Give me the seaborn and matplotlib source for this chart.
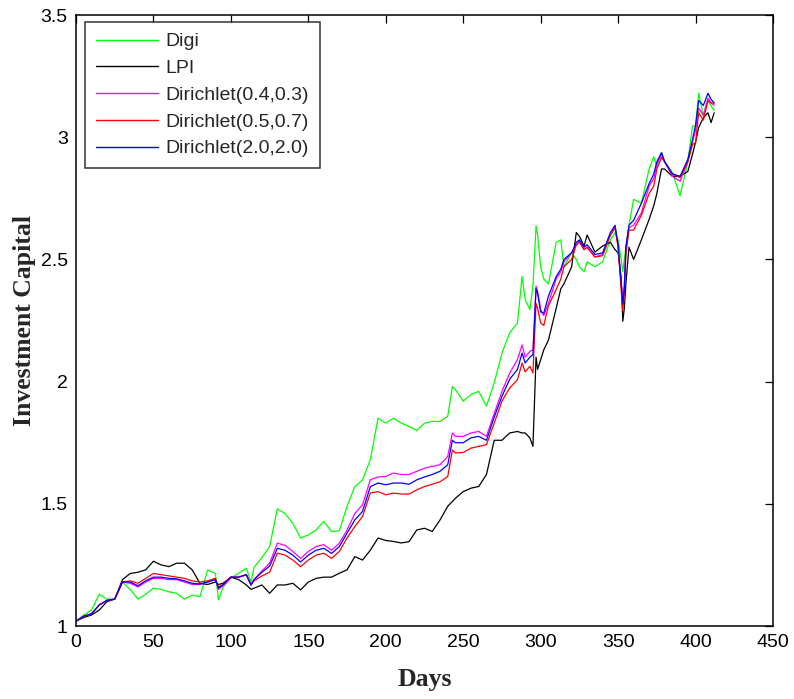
import numpy as np
import pandas as pd
import matplotlib
matplotlib.use("Agg")
import matplotlib.pyplot as plt
import seaborn as sns

# Trading days at which the portfolio value is sampled
days = [
    0, 5, 10, 15, 20, 25, 30, 35, 40, 45,
    50, 55, 60, 65, 70, 75, 80, 85, 90, 92,
    95, 100, 105, 110, 113, 115, 120, 125, 130, 135,
    140, 145, 150, 155, 160, 165, 170, 175, 180, 185,
    190, 195, 200, 205, 210, 215, 220, 225, 230, 235,
    240, 243, 245, 250, 255, 260, 265, 270, 275, 280,
    285, 288, 290, 293, 295, 297, 298, 300, 302, 305,
    310, 313, 315, 320, 323, 325, 328, 330, 335, 340,
    345, 348, 350, 352, 353, 354, 355, 357, 360, 365,
    370, 373, 375, 378, 380, 385, 390, 395, 398, 400,
    402, 405, 408, 410, 412,
]

digi = [
    1.02, 1.045, 1.065, 1.13, 1.11, 1.11, 1.18, 1.15, 1.11, 1.13,
    1.155, 1.15, 1.14, 1.134, 1.11, 1.127, 1.12, 1.23, 1.215, 1.107,
    1.16, 1.195, 1.216, 1.236, 1.18, 1.24, 1.28, 1.325, 1.48, 1.46,
    1.42, 1.36, 1.373, 1.393, 1.428, 1.387, 1.39, 1.49, 1.57, 1.598,
    1.68, 1.85, 1.83, 1.85, 1.83, 1.817, 1.80, 1.83, 1.837, 1.837,
    1.858, 1.98, 1.967, 1.92, 1.947, 1.96, 1.90, 1.995, 2.117, 2.20,
    2.24, 2.43, 2.336, 2.295, 2.39, 2.637, 2.60, 2.47, 2.42, 2.40,
    2.57, 2.58, 2.47, 2.527, 2.50, 2.47, 2.45, 2.49, 2.47, 2.49,
    2.58, 2.61, 2.58, 2.50, 2.45, 2.50, 2.55, 2.64, 2.746, 2.73,
    2.87, 2.92, 2.88, 2.937, 2.90, 2.855, 2.76, 2.90, 3.046, 3.046,
    3.18, 3.087, 3.15, 3.128, 3.11,
]

lpi = [
    1.02, 1.035, 1.045, 1.065, 1.10, 1.11, 1.19, 1.215, 1.22, 1.23,
    1.265, 1.25, 1.243, 1.257, 1.257, 1.23, 1.175, 1.17, 1.18, 1.17,
    1.175, 1.20, 1.19, 1.168, 1.15, 1.155, 1.168, 1.134, 1.168, 1.168,
    1.175, 1.148, 1.18, 1.195, 1.20, 1.20, 1.216, 1.23, 1.284, 1.27,
    1.31, 1.36, 1.35, 1.346, 1.34, 1.345, 1.393, 1.40, 1.387, 1.434,
    1.49, 1.51, 1.523, 1.55, 1.564, 1.571, 1.62, 1.76, 1.76, 1.79,
    1.796, 1.79, 1.79, 1.77, 1.735, 2.10, 2.05, 2.09, 2.13, 2.17,
    2.30, 2.38, 2.40, 2.47, 2.61, 2.595, 2.555, 2.60, 2.53, 2.555,
    2.57, 2.54, 2.527, 2.42, 2.247, 2.30, 2.40, 2.55, 2.50, 2.58,
    2.664, 2.72, 2.77, 2.87, 2.87, 2.84, 2.84, 2.86, 2.93, 2.98,
    3.04, 3.08, 3.10, 3.06, 3.10,
]

dir_04_03 = [
    1.02, 1.04, 1.05, 1.086, 1.105, 1.11, 1.18, 1.175, 1.16, 1.18,
    1.195, 1.195, 1.19, 1.19, 1.18, 1.17, 1.17, 1.18, 1.19, 1.15,
    1.165, 1.20, 1.20, 1.21, 1.168, 1.19, 1.225, 1.257, 1.339, 1.33,
    1.305, 1.277, 1.305, 1.325, 1.333, 1.31, 1.339, 1.393, 1.46, 1.496,
    1.598, 1.61, 1.612, 1.626, 1.62, 1.62, 1.633, 1.646, 1.653, 1.66,
    1.694, 1.79, 1.776, 1.776, 1.79, 1.796, 1.776, 1.87, 1.96, 2.035,
    2.09, 2.15, 2.10, 2.124, 2.13, 2.39, 2.37, 2.295, 2.27, 2.32,
    2.42, 2.45, 2.49, 2.527, 2.56, 2.57, 2.54, 2.55, 2.51, 2.52,
    2.60, 2.63, 2.55, 2.40, 2.33, 2.40, 2.55, 2.63, 2.64, 2.69,
    2.80, 2.83, 2.89, 2.93, 2.90, 2.84, 2.82, 2.90, 2.98, 3.03,
    3.12, 3.09, 3.16, 3.14, 3.13,
]

dir_05_07 = [
    1.02, 1.04, 1.05, 1.086, 1.105, 1.11, 1.18, 1.185, 1.175, 1.195,
    1.215, 1.21, 1.205, 1.20, 1.195, 1.185, 1.18, 1.185, 1.195, 1.16,
    1.17, 1.20, 1.20, 1.21, 1.168, 1.185, 1.205, 1.22, 1.298, 1.29,
    1.27, 1.243, 1.27, 1.29, 1.298, 1.277, 1.305, 1.36, 1.407, 1.448,
    1.544, 1.55, 1.537, 1.544, 1.54, 1.54, 1.557, 1.571, 1.58, 1.59,
    1.612, 1.72, 1.708, 1.71, 1.728, 1.735, 1.742, 1.83, 1.92, 1.974,
    2.008, 2.076, 2.04, 2.063, 2.036, 2.32, 2.30, 2.24, 2.23, 2.31,
    2.377, 2.42, 2.47, 2.50, 2.56, 2.575, 2.54, 2.55, 2.51, 2.515,
    2.60, 2.63, 2.55, 2.37, 2.29, 2.36, 2.52, 2.62, 2.62, 2.68,
    2.77, 2.80, 2.87, 2.917, 2.90, 2.85, 2.835, 2.90, 2.97, 2.978,
    3.10, 3.07, 3.15, 3.14, 3.14,
]

dir_20_20 = [
    1.02, 1.04, 1.05, 1.086, 1.105, 1.11, 1.18, 1.18, 1.165, 1.185,
    1.20, 1.20, 1.195, 1.193, 1.185, 1.175, 1.172, 1.18, 1.19, 1.155,
    1.17, 1.20, 1.20, 1.21, 1.168, 1.19, 1.22, 1.245, 1.318, 1.31,
    1.29, 1.262, 1.29, 1.31, 1.318, 1.297, 1.325, 1.38, 1.434, 1.469,
    1.57, 1.585, 1.578, 1.585, 1.585, 1.58, 1.598, 1.61, 1.62, 1.633,
    1.66, 1.76, 1.75, 1.75, 1.77, 1.776, 1.76, 1.855, 1.94, 2.01,
    2.05, 2.117, 2.076, 2.10, 2.11, 2.38, 2.36, 2.285, 2.28, 2.35,
    2.43, 2.46, 2.50, 2.527, 2.57, 2.58, 2.55, 2.56, 2.52, 2.527,
    2.61, 2.64, 2.56, 2.40, 2.32, 2.38, 2.55, 2.64, 2.66, 2.73,
    2.81, 2.85, 2.90, 2.937, 2.90, 2.85, 2.84, 2.91, 2.99, 3.05,
    3.15, 3.13, 3.18, 3.155, 3.14,
]

series_names = ["Digi", "LPI", "Dirichlet(0.4,0.3)", "Dirichlet(0.5,0.7)", "Dirichlet(2.0,2.0)"]
series_values = [digi, lpi, dir_04_03, dir_05_07, dir_20_20]
series_colors = ["#00ff00", "#000000", "#ff00ff", "#ff0000", "#0000ff"]

x_ticks = [0, 50, 100, 150, 200, 250, 300, 350, 400, 450]
y_ticks = [1, 1.5, 2, 2.5, 3, 3.5]
y_tick_labels = ["1", "1.5", "2", "2.5", "3", "3.5"]

frames = [pd.DataFrame({"Days": days, "Capital": vals, "Method": name})
          for name, vals in zip(series_names, series_values)]
data = pd.concat(frames, ignore_index=True)

sns.set_style("white")
plt.rcParams["font.family"] = ["Liberation Sans", "DejaVu Sans"]

fig = plt.figure(figsize=(7.94, 6.99), dpi=100)
ax = fig.add_axes([0.0957, 0.1044, 0.8779, 0.8741])

sns.lineplot(data=data, x="Days", y="Capital", hue="Method",
             hue_order=series_names, palette=dict(zip(series_names, series_colors)),
             linewidth=0.9, ax=ax, legend=True, estimator=None, sort=False)

ax.set_xlim(0, 450)
ax.set_ylim(1, 3.5)
ax.set_xticks(x_ticks)
ax.set_yticks(y_ticks)
ax.set_yticklabels(y_tick_labels)
ax.tick_params(direction="in", length=6, width=0.9, top=True, right=True,
               labelsize=14, colors="black", pad=6)
for side in ["left", "right", "top", "bottom"]:
    ax.spines[side].set_visible(True)
    ax.spines[side].set_color("black")
    ax.spines[side].set_linewidth(1.1)

ax.set_xlabel("Days", fontsize=18.5, fontweight="bold",
              family=["Liberation Serif", "DejaVu Serif"], labelpad=12)
ax.set_ylabel("Investment Capital", fontsize=18.5, fontweight="bold",
              family=["Liberation Serif", "DejaVu Serif"], labelpad=3)

leg = ax.legend(loc="upper left", bbox_to_anchor=(0.0129, 0.9885), frameon=True,
                fancybox=False, edgecolor="black", fontsize=14,
                handlelength=3.2, handletextpad=0.4, borderpad=0.55,
                labelspacing=0.47, borderaxespad=0)
leg.get_frame().set_linewidth(1.1)
for line in leg.get_lines():
    line.set_linewidth(1.0)

fig.savefig("out.png", dpi=100, facecolor="white")
